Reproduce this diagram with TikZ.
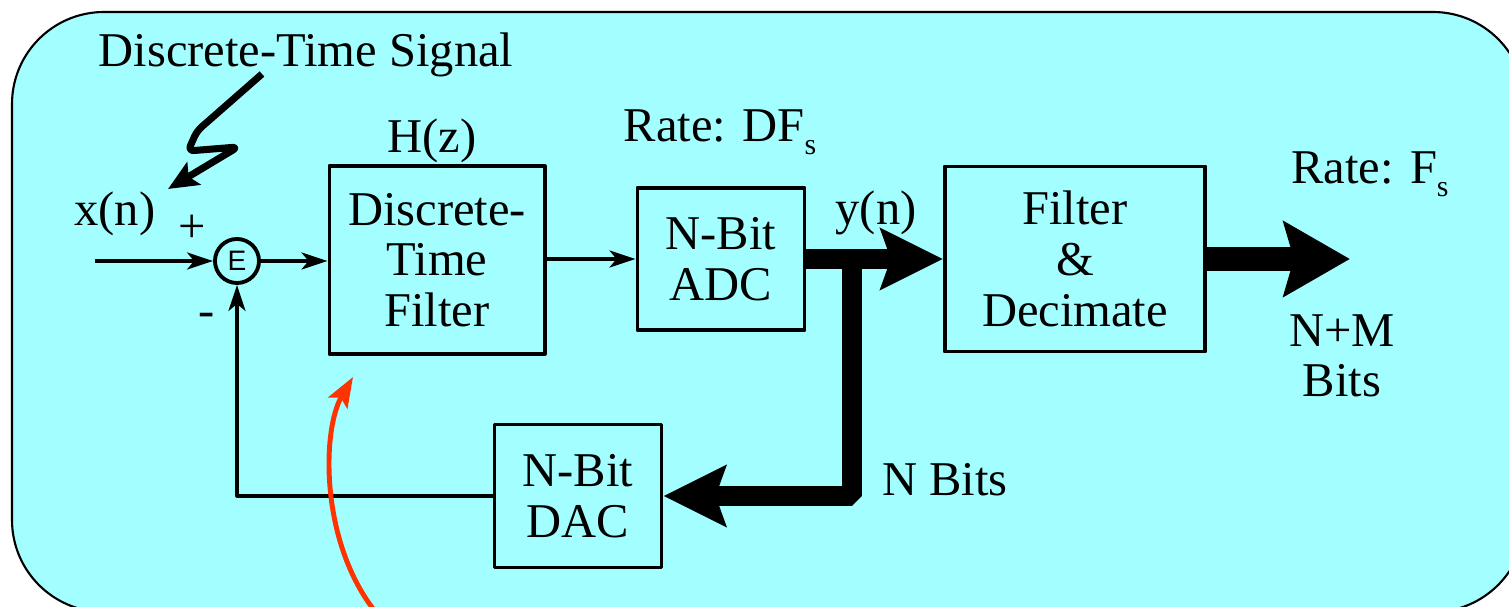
\documentclass[tikz,border=0pt]{standalone}
\usepackage{fontspec}
\setmainfont{Liberation Serif}
\newfontfamily\sumfont{Liberation Sans}
\usetikzlibrary{arrows.meta}
\definecolor{panelcyan}{HTML}{A3FFFF}
\definecolor{hintred}{HTML}{FF3300}
\newcommand{\subs}{\raisebox{-0.6ex}{\fontsize{8.5pt}{8.5pt}\selectfont s}}
\begin{document}
\begin{tikzpicture}[line join=round, x={(0.01cm,0cm)}, y={(0cm,-0.01cm)},
		font=\fontsize{13.8pt}{14.4pt}\selectfont,
		block/.style={draw, line width=1.1pt, align=center, inner sep=0pt},
		lbl/.style={inner sep=0pt, align=center},
		thin/.style={line width=0.9pt, -{Stealth[length=0.26cm, width=0.17cm, inset=0.07cm]}},
		fat/.style={line width=5.6pt, line join=bevel, -{Stealth[length=0.62cm, width=0.6cm, inset=0.1cm]}}]
			\useasboundingbox (0,0) rectangle (1509,607);
			\draw[fill=panelcyan, line width=0.6pt, rounded corners=0.92cm] (12,12) rectangle (1525,612);
			
			% blocks
			\node[block, minimum width=2.15cm, minimum height=1.88cm] (filt) at (437,260) {Discrete-\\Time\\Filter};
			\node[block, minimum width=1.67cm, minimum height=1.42cm] (adc) at (721,259) {N-Bit\\ADC};
			\node[block, minimum width=2.60cm, minimum height=1.85cm] (dec) at (1075,259) {Filter\\\&\\Decimate};
			\node[block, minimum width=1.67cm, minimum height=1.43cm] (dac) at (578,496) {N-Bit\\DAC};
			\node[draw, circle, line width=1.1pt, minimum size=0.44cm, inner sep=0pt, font=\sumfont\fontsize{8pt}{8pt}\selectfont] (sum) at (237,261) {E};
			
			\coordinate (xin) at (95,261);
			\coordinate (tap) at (852,259);
			\coordinate (yout) at (1350,259);
			
			% signal path
			\draw[thin] (xin) -- (sum.west);
			\draw[thin] (sum.east) -- (sum.east -| filt.west);
			\draw[thin] (filt.east |- adc.west) -- (adc.west);
			\draw[fat] (adc.east) -- (dec.west);
			\draw[fat] (tap) |- (dac.east);
			\draw[line width=7pt, -{Stealth[length=0.66cm, width=0.74cm, inset=0.1cm]}] (dec.east) -- (yout);
			\draw[thin] (dac.west) -| (sum.south);
			
			% labels
			\node[lbl] (title) at (306,55) {Discrete-Time Signal};
			\node[lbl] (xn) at (115,214) {x(n)};
			\node[lbl] (plus) at (192,229) {+};
			\node[lbl] (minus) at (207,320) {-};
			\node[lbl] (hz) at (432,141) {H(z)};
			\node[lbl] (ratea) at (720,132) {Rate: DF\subs};
			\node[lbl] (yn) at (876,213) {y(n)};
			\node[lbl] (rateb) at (1370,174) {Rate: F\subs};
			\node[lbl] (obits) at (1342,356) {N+M\\Bits};
			\node[lbl] (nbits) at (945,480) {N Bits};
			
			% pointers
			\draw[line width=2pt, rounded corners=0.06cm, -{Stealth[length=0.3cm, width=0.26cm, inset=0.06cm]}] (262,74) -- (197,131) -- (188,151) -- (238,147) -- (168,189);
			\draw[hintred, line width=1.4pt, -{Stealth[length=0.3cm, width=0.22cm, inset=0.06cm]}] (374,610) .. controls (320,540) and (322,430) .. (353,377);
			
		\end{tikzpicture}
\end{document}
